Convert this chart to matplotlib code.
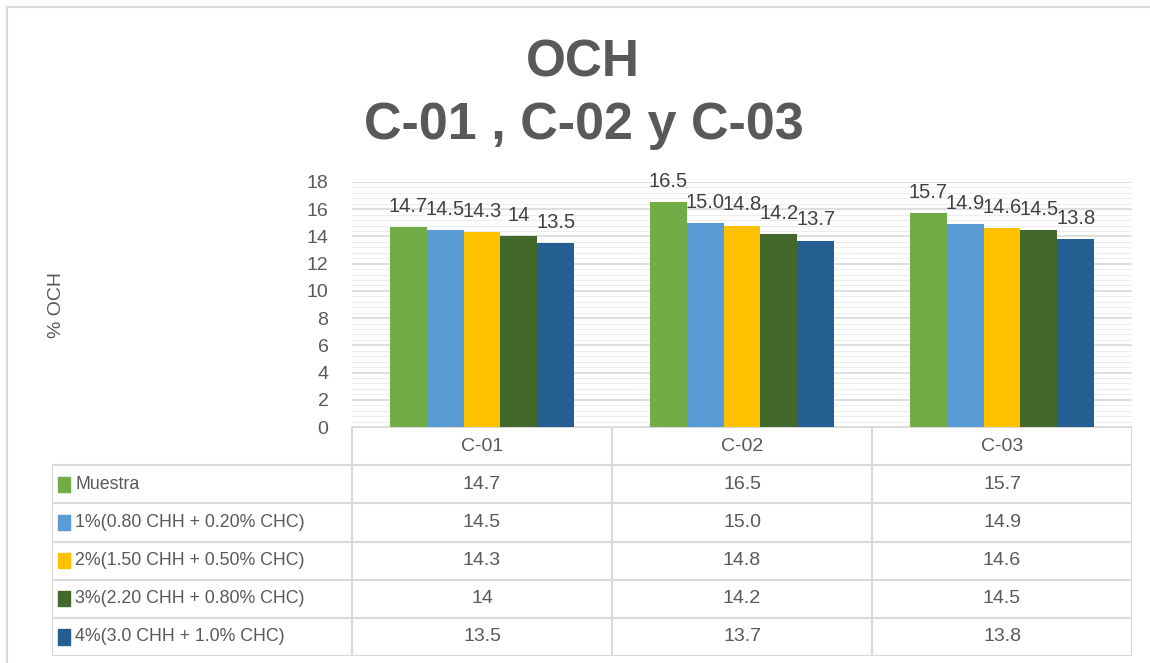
import numpy as np
import matplotlib
matplotlib.use("Agg")
import matplotlib.pyplot as plt
from matplotlib.patches import Rectangle
from matplotlib.ticker import MultipleLocator

categories = ["C-01", "C-02", "C-03"]
series_names = [
    "Muestra",
    "1%(0.80 CHH + 0.20% CHC)",
    "2%(1.50 CHH + 0.50% CHC)",
    "3%(2.20 CHH + 0.80% CHC)",
    "4%(3.0 CHH + 1.0% CHC)",
]
muestra = [14.7, 16.5, 15.7]
mezcla_1 = [14.5, 15.0, 14.9]
mezcla_2 = [14.3, 14.8, 14.6]
mezcla_3 = [14.0, 14.2, 14.5]
mezcla_4 = [13.5, 13.7, 13.8]
# texto tal como aparece en las etiquetas y en la tabla
label_text = [
    ["14.7", "16.5", "15.7"],
    ["14.5", "15.0", "14.9"],
    ["14.3", "14.8", "14.6"],
    ["14", "14.2", "14.5"],
    ["13.5", "13.7", "13.8"],
]
colors = ["#70AD47", "#5B9BD5", "#FFC000", "#43682B", "#255E91"]

series = [muestra, mezcla_1, mezcla_2, mezcla_3, mezcla_4]

plt.rcParams["font.family"] = ["Liberation Sans", "DejaVu Sans"]
txt = "#595959"
grid = "#D9D9D9"

fig = plt.figure(figsize=(11.5, 6.63), dpi=100)

# marco exterior
fig.patches.append(Rectangle((7 / 1150, -0.05), 1.2, 1 - 7 / 663 + 0.05,
                             transform=fig.transFigure, fill=False,
                             edgecolor=grid, lw=1.5))

fig.text(0.507, 0.905, "OCH", ha="center", va="center", fontsize=37,
         fontweight="bold", color=txt)
fig.text(0.508, 0.81, "C-01 , C-02 y C-03", ha="center", va="center",
         fontsize=37.5, fontweight="bold", color=txt)

ax = fig.add_axes([352 / 1150, 1 - 427 / 663, 780 / 1150, 245 / 663])
x = np.arange(len(categories))
w = 0.1423
for i, (vals, c) in enumerate(zip(series, colors)):
    pos = x + (i - 2) * w
    bars = ax.bar(pos, vals, width=w, color=c, zorder=3)
    for b, t in zip(bars, label_text[i]):
        ax.annotate(t, (b.get_x() + b.get_width() / 2, b.get_height()),
                    xytext=(0, 8), textcoords="offset points",
                    ha="center", va="bottom", fontsize=14.5, color="#404040")

ax.set_xlim(-0.5, 2.5)
ax.set_ylim(0, 18)
ax.yaxis.set_major_locator(MultipleLocator(2))
ax.yaxis.set_minor_locator(MultipleLocator(0.4))
ax.grid(axis="y", which="major", color=grid, lw=1.2, zorder=0)
ax.grid(axis="y", which="minor", color="#EDEDED", lw=0.8, zorder=0)
ax.set_xticks([])
ax.tick_params(axis="y", which="both", length=0, labelsize=14,
               labelcolor=txt, pad=17)
for s in ax.spines.values():
    s.set_visible(False)
ax.set_ylabel("% OCH", fontsize=14, color=txt, labelpad=0)
ax.yaxis.set_label_coords(-0.368, 0.5)

# tabla de datos debajo del gráfico
left = -0.5 - 300 / 260
tb = fig.add_axes([52 / 1150, 1 - 656 / 663, 1080 / 1150, 229 / 663])
tb.set_xlim(left, 2.5)
tb.set_ylim(6, 0)
tb.axis("off")
lc = dict(color=grid, lw=1.5)
tb.plot([-0.5, 2.5], [0, 0], **lc)
for r in range(1, 7):
    tb.plot([left, 2.5], [r, r], **lc)
for xv in [-0.5, 0.5, 1.5, 2.5]:
    tb.plot([xv, xv], [0, 6], **lc)
tb.plot([left, left], [1, 6], **lc)

for j, cat in enumerate(categories):
    tb.text(j, 0.5, cat, ha="center", va="center", fontsize=14, color=txt)
for i, name in enumerate(series_names):
    yc = i + 1.5
    tb.add_patch(Rectangle((left + 0.025, yc - 0.2), 0.045, 0.4,
                           color=colors[i]))
    tb.text(left + 0.09, yc, name, ha="left", va="center", fontsize=12.8,
            color=txt)
    for j in range(len(categories)):
        tb.text(j, yc, label_text[i][j], ha="center", va="center",
                fontsize=14, color=txt)

fig.savefig("out.png", dpi=100)
